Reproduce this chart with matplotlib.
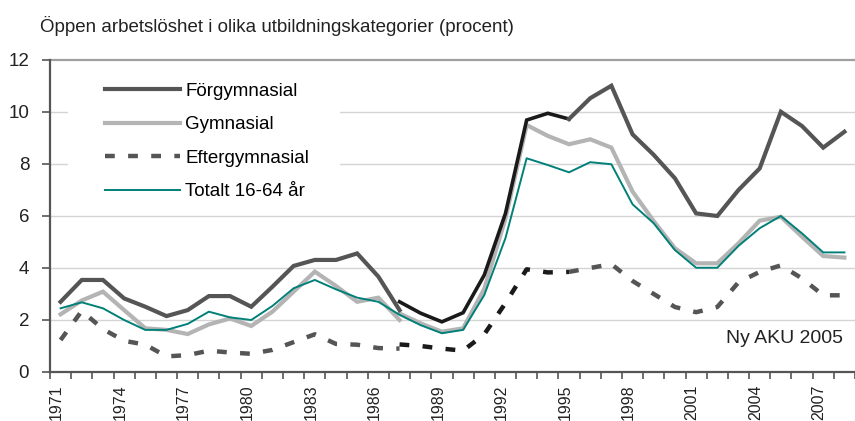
import numpy as np
from matplotlib import pyplot as plt
from matplotlib.patches import Rectangle
from matplotlib.transforms import ScaledTranslation

plt.rcParams['font.family'] = ['Liberation Sans', 'DejaVu Sans']

years = list(range(1971, 2009))
tick_years = list(range(1971, 2009, 3))

# old series 1971-1987
forgy_old = [2.7, 3.54, 3.54, 2.83, 2.51, 2.15, 2.38, 2.92, 2.92, 2.51, 3.28, 4.08, 4.31, 4.31, 4.56, 3.67, 2.38]
gym_old = [2.22, 2.75, 3.09, 2.38, 1.68, 1.62, 1.46, 1.83, 2.06, 1.77, 2.32, 3.09, 3.86, 3.31, 2.7, 2.86, 2.0]
efter_old = [1.23, 2.35, 1.65, 1.2, 1.05, 0.6, 0.65, 0.82, 0.75, 0.7, 0.85, 1.15, 1.45, 1.08, 1.05, 0.92, 0.9]

# new series 1987-2008
forgy_new = [2.7, 2.26, 1.93, 2.28, 3.73, 6.1, 9.69, 9.95, 9.73, 10.53, 11.01, 9.14, 8.35, 7.45, 6.1, 6.0,
             7.0, 7.83, 10.01, 9.46, 8.63, 9.24]
gym_new = [2.25, 1.87, 1.55, 1.68, 3.2, 5.9, 9.5, 9.08, 8.76, 8.95, 8.63, 6.94, 5.8, 4.76, 4.18, 4.18,
           4.95, 5.82, 5.97, 5.2, 4.46, 4.4]
efter_new = [1.06, 1.0, 0.9, 0.82, 1.45, 2.65, 3.95, 3.83, 3.85, 4.0, 4.15, 3.5, 3.0, 2.5, 2.3, 2.5,
             3.45, 3.85, 4.1, 3.6, 2.95, 2.95]

# 1971-2008
totalt = [2.45, 2.68, 2.45, 2.0, 1.62, 1.62, 1.85, 2.32, 2.1, 2.0, 2.54, 3.22, 3.54, 3.18, 2.86, 2.7, 2.2,
          1.8, 1.49, 1.62, 2.96, 5.15, 8.22, 7.96, 7.68, 8.07, 7.99, 6.45, 5.72, 4.69, 4.01, 4.01,
          4.85, 5.53, 6.0, 5.33, 4.6, 4.6]

dark = '#555555'
light = '#b4b4b4'
black = '#1a1a1a'
teal = '#008078'
txt = '#222222'

fig = plt.figure(figsize=(8.55, 4.21), dpi=100)
ax = fig.add_axes([50 / 855, 49 / 421, 1 - 50 / 855, 312 / 421])

x_old = np.arange(0, 17)
x_new = np.arange(16, 38)
i95 = 1995 - 1987  # black part of new series ends 1995

dash = (0, (2.2, 3.0))

ax.plot(x_old, gym_old, color=light, lw=3.0, solid_joinstyle='miter', label='Gymnasial')
ax.plot(x_new, gym_new, color=light, lw=3.0, solid_joinstyle='miter')

ax.plot(x_old, forgy_old, color=dark, lw=3.0, solid_joinstyle='miter', label='Förgymnasial')
ax.plot(x_new[:i95 + 1], forgy_new[:i95 + 1], color=black, lw=2.6, solid_joinstyle='miter')
ax.plot(x_new[i95:], forgy_new[i95:], color=dark, lw=3.0, solid_joinstyle='miter')

ax.plot(x_old, efter_old, color=dark, lw=3.2, ls=dash, label='Eftergymnasial')
ax.plot(x_new[:i95 + 1], efter_new[:i95 + 1], color=black, lw=3.2, ls=dash)
ax.plot(x_new[i95:], efter_new[i95:], color=dark, lw=3.2, ls=dash)

ax.plot(np.arange(len(years)), totalt, color=teal, lw=1.4, label='Totalt 16-64 år')

ax.set_xlim(-0.47, 37.32)
ax.set_ylim(0, 12)

ax.set_xticks([years.index(y) for y in tick_years])
ax.set_xticklabels([str(y) for y in tick_years], rotation=90, fontsize=11.5, color=txt)
ax.set_xticks(np.arange(-0.5, 38, 1), minor=True)
ax.tick_params(axis='x', which='major', length=0, pad=9)
ax.tick_params(axis='x', which='minor', length=5, width=1.2, color=dark, direction='out')
shift = ScaledTranslation(-4 / 100, 0, fig.dpi_scale_trans)
for lab in ax.get_xticklabels():
    lab.set_transform(lab.get_transform() + shift)

ax.set_yticks(range(0, 13, 2))
ax.tick_params(axis='y', length=6, width=1.2, color=dark, labelsize=13.5, labelcolor=txt, pad=9)

for v in range(2, 12, 2):
    ax.axhline(v, color='#d4d4d4', lw=1.0, zorder=0)
ax.axhline(12, color='#a0a0a0', lw=1.6, zorder=0, clip_on=False)

for s in ['top', 'right']:
    ax.spines[s].set_visible(False)
ax.spines['left'].set_color(dark)
ax.spines['left'].set_linewidth(1.6)
ax.spines['bottom'].set_color(dark)
ax.spines['bottom'].set_linewidth(1.6)

# white box behind the legend
ax.add_patch(Rectangle((18 / 805, 0.535), 272 / 805, 0.43, transform=ax.transAxes,
                       facecolor='white', edgecolor='none', zorder=0.5))

h, l = ax.get_legend_handles_labels()
order = [l.index('Förgymnasial'), l.index('Gymnasial'), l.index('Eftergymnasial'), l.index('Totalt 16-64 år')]
ax.legend([h[i] for i in order], [l[i] for i in order], loc='upper left',
          bbox_to_anchor=(0.0637, 0.939), frameon=False, fontsize=13.5, borderpad=0.2,
          borderaxespad=0, handlelength=4.0, handletextpad=0.27, labelspacing=0.87)

ax.text(0.985, 0.106, 'Ny AKU 2005', transform=ax.transAxes, ha='right', va='center',
        fontsize=14, color=txt)

fig.text(40 / 855, 1 - 26 / 421, 'Öppen arbetslöshet i olika utbildningskategorier (procent)',
         ha='left', va='center', fontsize=13.5, color=txt)

plt.savefig('out.png', dpi=100)
